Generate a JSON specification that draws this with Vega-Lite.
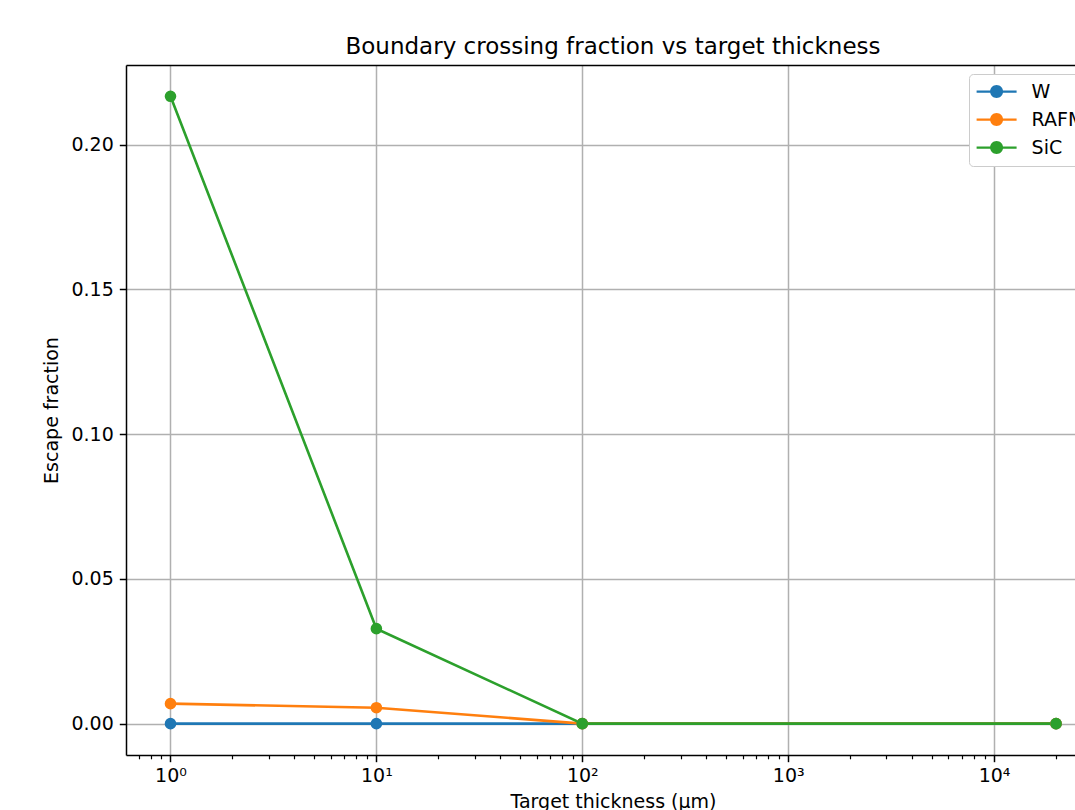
{
  "$schema": "https://vega.github.io/schema/vega-lite/v6.json",
  "autosize": {"type": "none"},
  "width": 949,
  "height": 690,
  "padding": {"left": 126, "top": 65, "right": 0, "bottom": 55},
  "background": "white",
  "config": {
    "font": "DejaVu Sans",
    "view": {"stroke": null},
    "axis": {
      "labelFont": "DejaVu Sans",
      "titleFont": "DejaVu Sans",
      "labelColor": "black",
      "titleColor": "black",
      "tickColor": "black",
      "domainColor": "black",
      "domainWidth": 1.5,
      "tickWidth": 1.5,
      "gridColor": "#b0b0b0",
      "gridWidth": 1.5,
      "titleFontWeight": "normal"
    }
  },
  "title": {
    "text": "Boundary crossing fraction vs target thickness",
    "font": "DejaVu Sans",
    "fontSize": 23,
    "fontWeight": "normal",
    "color": "black",
    "anchor": "middle",
    "frame": "group",
    "dx": 12.5,
    "dy": 23,
    "baseline": "alphabetic",
    "offset": 11
  },
  "data": {
    "values": [
      {"material": "W", "thickness": 1, "fraction": 0},
      {"material": "W", "thickness": 10, "fraction": 0},
      {"material": "W", "thickness": 100, "fraction": 0},
      {"material": "W", "thickness": 20000, "fraction": 0},
      {"material": "RAFM", "thickness": 1, "fraction": 0.0069},
      {"material": "RAFM", "thickness": 10, "fraction": 0.0055},
      {"material": "RAFM", "thickness": 100, "fraction": 0},
      {"material": "RAFM", "thickness": 20000, "fraction": 0},
      {"material": "SiC", "thickness": 1, "fraction": 0.2167},
      {"material": "SiC", "thickness": 10, "fraction": 0.0328},
      {"material": "SiC", "thickness": 100, "fraction": 0},
      {"material": "SiC", "thickness": 20000, "fraction": 0}
    ]
  },
  "resolve": {"axis": {"x": "independent"}},
  "layer": [
    {
      "mark": {"type": "line", "strokeWidth": 2.6, "point": {"filled": true, "size": 135, "opacity": 1}},
      "encoding": {
        "x": {
          "field": "thickness",
          "type": "quantitative",
          "scale": {"type": "log", "domain": [0.608, 24720], "nice": false},
          "axis": {
            "orient": "bottom",
            "values": [1, 10, 100, 1000, 10000],
            "labelExpr": "'10' + ['⁰','¹','²','³','⁴'][round(log(datum.value)/LN10)]",
            "labelFontSize": 19,
            "labelPadding": 5,
            "tickSize": 6.7,
            "grid": true,
            "domain": true,
            "title": "Target thickness (µm)",
            "titleFontSize": 19,
            "titleX": 487,
            "titleY": 52,
            "titleBaseline": "alphabetic",
            "titleAnchor": "middle"
          }
        },
        "y": {
          "field": "fraction",
          "type": "quantitative",
          "scale": {"domain": [-0.01083, 0.2275], "nice": false, "zero": false},
          "axis": {
            "values": [0, 0.05, 0.1, 0.15, 0.2],
            "format": ".2f",
            "labelFontSize": 19,
            "labelPadding": 6,
            "tickSize": 6.7,
            "grid": true,
            "title": "Escape fraction",
            "titleFontSize": 19,
            "titleX": -69,
            "titleY": 345,
            "titleBaseline": "alphabetic",
            "titleAnchor": "middle"
          }
        },
        "color": {
          "field": "material",
          "type": "nominal",
          "scale": {"domain": ["W", "RAFM", "SiC"], "range": ["#1f77b4", "#ff7f0e", "#2ca02c"]},
          "legend": {
            "title": null,
            "orient": "none",
            "legendX": 843,
            "legendY": 9,
            "padding": 7.6,
            "symbolType": "M-2,-0.12 L2,-0.12 L2,0.12 L-2,0.12 Z M0.65,0 A0.65,0.65 0 1,1 -0.65,0 A0.65,0.65 0 1,1 0.65,0 Z",
            "symbolSize": 400,
            "symbolOffset": 10,
            "symbolStrokeWidth": 0,
            "symbolOpacity": 1,
            "labelFont": "DejaVu Sans",
            "labelFontSize": 19,
            "labelColor": "black",
            "labelOffset": 25,
            "rowPadding": 8,
            "strokeColor": "#cccccc",
            "fillColor": "white",
            "cornerRadius": 4,
            "encode": {
              "symbols": {"update": {"fill": {"scale": "color", "field": "value"}, "opacity": {"value": 1}}}
            }
          }
        }
      }
    },
    {
      "mark": {"type": "point", "opacity": 0},
      "encoding": {
        "x": {
          "field": "thickness",
          "type": "quantitative",
          "axis": {
            "orient": "bottom",
            "values": [0.7, 0.8, 0.9, 2, 3, 4, 5, 6, 7, 8, 9, 20, 30, 40, 50, 60, 70, 80, 90, 200, 300, 400, 500, 600, 700, 800, 900, 2000, 3000, 4000, 5000, 6000, 7000, 8000, 9000, 20000],
            "labels": false,
            "grid": false,
            "domain": false,
            "tickSize": 3.8,
            "tickWidth": 1.2,
            "title": null
          }
        }
      }
    },
    {
      "mark": {"type": "point", "opacity": 0},
      "encoding": {
        "x": {
          "field": "thickness",
          "type": "quantitative",
          "axis": {
            "orient": "top",
            "labels": false,
            "ticks": false,
            "grid": false,
            "domain": true,
            "title": null
          }
        }
      }
    }
  ]
}
